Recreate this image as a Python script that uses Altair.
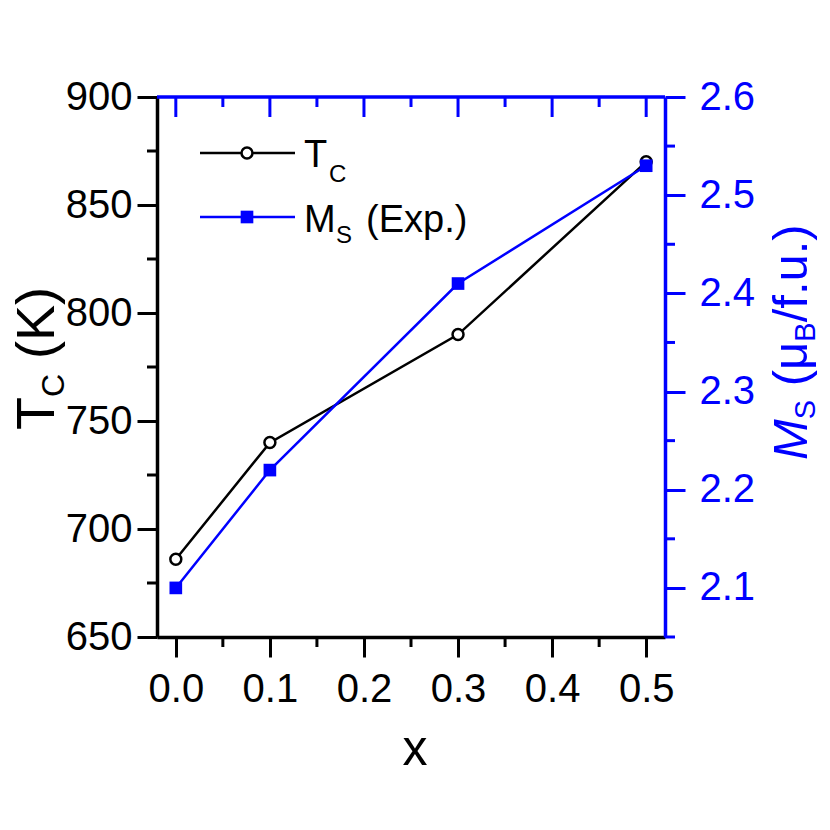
import altair as alt
import pandas as pd

# ---- data ----
x_vals = [0.0, 0.1, 0.3, 0.5]
tc_vals = [686, 740, 790, 870]
ms_vals = [2.10, 2.22, 2.41, 2.53]

x_major = [0.0, 0.1, 0.2, 0.3, 0.4, 0.5]
x_minor = [0.05, 0.15, 0.25, 0.35, 0.45]
tc_major = [650, 700, 750, 800, 850, 900]
tc_minor = [675, 725, 775, 825, 875]
ms_major = [2.1, 2.2, 2.3, 2.4, 2.5, 2.6]
ms_minor = [2.05, 2.15, 2.25, 2.35, 2.45, 2.55]

X_DOMAIN = [-0.02, 0.52]
TC_DOMAIN = [650, 900]
MS_DOMAIN = [2.05, 2.6]

W, H = 508, 540
FONT = "Liberation Sans"
BLUE = "#0000FF"
LW = 2.5

df = pd.DataFrame({"x": x_vals, "tc": tc_vals, "ms": ms_vals})
dummy = pd.DataFrame({"a": [0]})

xs = alt.Scale(domain=X_DOMAIN, nice=False, zero=False)
tcs = alt.Scale(domain=TC_DOMAIN, nice=False, zero=False)
mss = alt.Scale(domain=MS_DOMAIN, nice=False, zero=False)

x_axis = alt.Axis(orient="bottom", values=x_major, format=".1f", tickSize=20, tickWidth=3,
                  tickColor="black", domainColor="black", domainWidth=3.5, labelColor="black",
                  labelFont=FONT, labelFontSize=40, labelPadding=12, labelFlush=False,
                  grid=False, title=None)
left_axis = alt.Axis(orient="left", values=tc_major, format="d", tickSize=20, tickWidth=3,
                     tickColor="black", domainColor="black", domainWidth=3.5, labelColor="black",
                     labelFont=FONT, labelFontSize=40, labelPadding=5, labelFlush=False,
                     grid=False, title=None)
right_axis = alt.Axis(orient="right", values=ms_major, format=".1f", tickSize=20, tickWidth=3,
                      tickColor=BLUE, domainColor=BLUE, domainWidth=3.5, labelColor=BLUE,
                      labelFont=FONT, labelFontSize=40, labelPadding=14, labelFlush=False,
                      grid=False, title=None)


def XF(f):
    return alt.X(f, scale=xs, axis=x_axis)


def TY(f):
    return alt.Y(f, scale=tcs, axis=left_axis)


def MY(f):
    return alt.Y(f, scale=mss, axis=right_axis)


# ---- left (T_C) group ----
tc_line = alt.Chart(df).mark_line(color="black", strokeWidth=LW).encode(
    x=XF("x:Q"), y=TY("tc:Q"))
tc_pts = alt.Chart(df).mark_point(shape="circle", filled=True, fill="white", stroke="black",
                                  strokeWidth=LW, size=120, opacity=1).encode(
    x=XF("x:Q"), y=TY("tc:Q"))
tc_minor_r = alt.Chart(pd.DataFrame({"v": tc_minor})).mark_rule(color="black", strokeWidth=3).encode(
    y=TY("v:Q"), x=alt.value(-10), x2=alt.value(0))
x_minor_r = alt.Chart(pd.DataFrame({"v": x_minor})).mark_rule(color="black", strokeWidth=3).encode(
    x=XF("v:Q"), y=alt.value(H), y2=alt.value(H + 10))
top_major_r = alt.Chart(pd.DataFrame({"v": x_major})).mark_rule(color=BLUE, strokeWidth=3).encode(
    x=XF("v:Q"), y=alt.value(0), y2=alt.value(20))
top_minor_r = alt.Chart(pd.DataFrame({"v": x_minor})).mark_rule(color=BLUE, strokeWidth=3).encode(
    x=XF("v:Q"), y=alt.value(0), y2=alt.value(10))
top_dom = alt.Chart(pd.DataFrame({"a": [X_DOMAIN[0]], "b": [X_DOMAIN[1]]})).mark_rule(
    color=BLUE, strokeWidth=3.5).encode(
    x=XF("a:Q"), x2="b:Q", y=alt.value(0))

left_group = alt.layer(tc_line, tc_minor_r, x_minor_r, top_dom, top_major_r, top_minor_r, tc_pts)

# ---- right (M_S) group ----
ms_line = alt.Chart(df).mark_line(color=BLUE, strokeWidth=LW).encode(
    x=XF("x:Q"), y=MY("ms:Q"))
ms_pts = alt.Chart(df).mark_point(shape="square", filled=True, color=BLUE, size=160, opacity=1).encode(
    x=XF("x:Q"), y=MY("ms:Q"))
ms_minor_r = alt.Chart(pd.DataFrame({"v": ms_minor})).mark_rule(color=BLUE, strokeWidth=3).encode(
    y=MY("v:Q"), x=alt.value(W), x2=alt.value(W + 10))

right_group = alt.layer(ms_line, ms_minor_r, ms_pts)


# ---- text helpers ----
def txt(text, x, y, size, angle=0, color="black", italic=False, align="left"):
    kw = dict(text=text, font=FONT, fontSize=size, color=color, align=align,
              baseline="alphabetic", fontStyle="italic" if italic else "normal")
    if angle:
        kw["angle"] = angle
    return alt.Chart(dummy).mark_text(**kw).encode(x=alt.value(x), y=alt.value(y))


SP = 0.278  # space advance (em)
texts = []
# left title: T_C (K)
LT, LS = 54, 32
lx, ly = -103, 333
texts.append(txt("T", lx, ly, LT, 270))
ly -= 0.611 * LT
texts.append(txt("C", lx + 10, ly, LS, 270))
ly -= 0.722 * LS + SP * LT
texts.append(txt("(K)", lx, ly, LT, 270))

# right title: M_S (mu_B/f.u.)
RT, RS = 49, 29
rx, ry = 650, 363
texts.append(txt("M", rx, ry, RT, 270, BLUE, italic=True))
ry -= 0.833 * RT
texts.append(txt("S", rx + 8, ry, RS, 270, BLUE))
ry -= 0.667 * RS + SP * RT
texts.append(txt("(μ", rx, ry, RT, 270, BLUE))
ry -= (0.333 + 0.576) * RT
texts.append(txt("B", rx + 8, ry, RS, 270, BLUE))
ry -= 0.667 * RS
texts.append(txt("/f.u.)", rx, ry, RT, 270, BLUE))

# x title
texts.append(txt("x", 258, 668, 50, align="center"))

# legend
leg_line1 = alt.Chart(dummy).mark_rule(color="black", strokeWidth=LW).encode(
    x=alt.value(43), x2=alt.value(138), y=alt.value(56))
leg_pt1 = alt.Chart(dummy).mark_point(shape="circle", filled=True, fill="white", stroke="black",
                                      strokeWidth=LW, size=120, opacity=1).encode(
    x=alt.value(90), y=alt.value(56))
leg_line2 = alt.Chart(dummy).mark_rule(color=BLUE, strokeWidth=LW).encode(
    x=alt.value(43), x2=alt.value(138), y=alt.value(120))
leg_pt2 = alt.Chart(dummy).mark_point(shape="square", filled=True, color=BLUE, size=160,
                                      opacity=1).encode(x=alt.value(90), y=alt.value(120))
texts += [leg_line1, leg_pt1, leg_line2, leg_pt2]
texts.append(txt("T", 147, 70, 38))
texts.append(txt("C", 172, 85, 24))
texts.append(txt("M", 147, 135, 38))
texts.append(txt("S", 179, 146, 24))
texts.append(txt("(Exp.)", 209, 135, 38))

chart = alt.layer(left_group, right_group, *texts).resolve_scale(y="independent").properties(
    width=W, height=H,
    autosize=alt.AutoSizeParams(type="none"),
    padding={"left": 149, "top": 89, "right": 157, "bottom": 185},
).configure_view(stroke=None)

chart.save("out.html", embed_options={"renderer": "svg", "actions": False})
